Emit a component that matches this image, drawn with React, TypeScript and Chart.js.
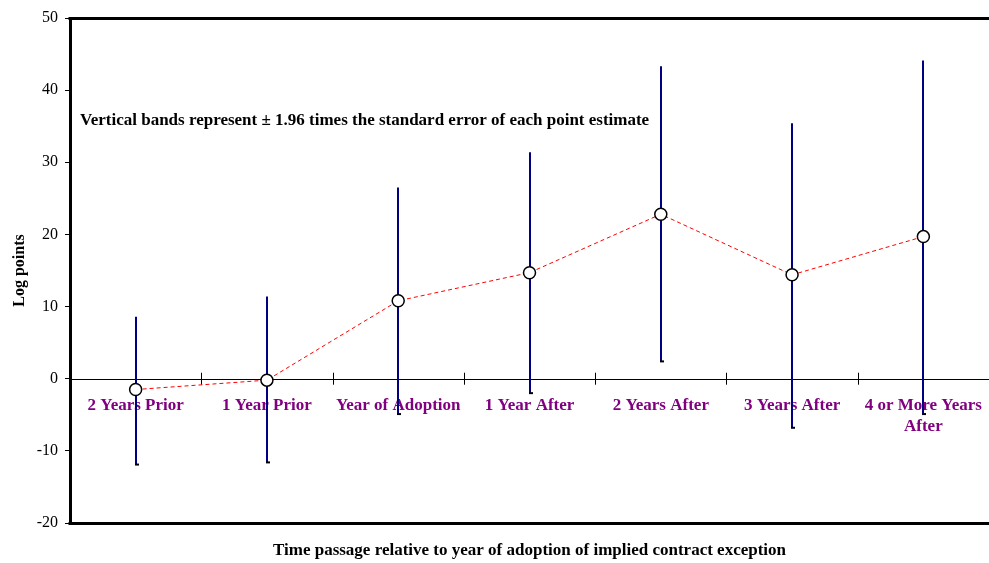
import React, { useEffect, useRef } from "react";
import { Chart, registerables } from "chart.js";

Chart.register(...registerables);

const categories: string[][] = [
  ["2 Years Prior"],
  ["1 Year Prior"],
  ["Year of Adoption"],
  ["1 Year After"],
  ["2 Years After"],
  ["3 Years After"],
  ["4 or More Years", "After"],
];
const estimates = [-1.5, -0.2, 10.8, 14.7, 22.8, 14.4, 19.7];
const upperBand = [8.6, 11.4, 26.5, 31.4, 43.3, 35.4, 44.1];
const lowerBand = [-11.9, -11.6, -4.9, -2.0, 2.4, -6.8, -4.9];
const yTicksMin = -20;
const yTicksMax = 50;
const yStep = 10;

const annotationText =
  "Vertical bands represent \u00b1 1.96 times the standard error of each point estimate";
const xTitle = "Time passage relative to year of adoption of implied contract exception";
const yTitle = "Log points";

const SERIF = "'Liberation Serif', 'Times New Roman', serif";

const customPlugin = {
  id: "custom",
  beforeDatasetsDraw(chart: any) {
    const ctx = chart.ctx;
    const x = chart.scales.x;
    const y = chart.scales.y;
    const ca = chart.chartArea;
    const y0 = y.getPixelForValue(0);
    ctx.save();
    // zero line
    ctx.strokeStyle = "#000";
    ctx.lineWidth = 1;
    ctx.beginPath();
    ctx.moveTo(ca.left, Math.round(y0) + 0.5);
    ctx.lineTo(ca.right, Math.round(y0) + 0.5);
    ctx.stroke();
    // category boundary ticks
    for (let i = 1; i < categories.length; i++) {
      const bx = (x.getPixelForValue(i - 1) + x.getPixelForValue(i)) / 2;
      ctx.beginPath();
      ctx.moveTo(Math.round(bx) + 0.5, y0 - 6);
      ctx.lineTo(Math.round(bx) + 0.5, y0 + 6);
      ctx.stroke();
    }
    // category labels
    ctx.fillStyle = "#800080";
    ctx.font = `bold 17px ${SERIF}`;
    ctx.textAlign = "center";
    ctx.textBaseline = "middle";
    categories.forEach((lines, i) => {
      const cx = x.getPixelForValue(i);
      lines.forEach((ln, j) => {
        ctx.fillText(ln, cx, y0 + 27 + j * 21);
      });
    });
    // error bands
    for (let i = 0; i < estimates.length; i++) {
      const cx = Math.round(x.getPixelForValue(i));
      const yt = y.getPixelForValue(upperBand[i]);
      const yb = y.getPixelForValue(lowerBand[i]);
      ctx.strokeStyle = "#000080";
      ctx.lineWidth = 2;
      ctx.beginPath();
      ctx.moveTo(cx, yt);
      ctx.lineTo(cx, yb);
      ctx.stroke();
      ctx.fillStyle = "#000";
      ctx.fillRect(cx - 1, yb - 1, 4, 2);
    }
    ctx.restore();
  },
  afterDraw(chart: any) {
    const ctx = chart.ctx;
    const ca = chart.chartArea;
    ctx.save();
    ctx.strokeStyle = "#000";
    ctx.lineWidth = 3;
    ctx.beginPath();
    ctx.moveTo(ca.left - 1.5, ca.top + 0.5);
    ctx.lineTo(ca.right, ca.top + 0.5);
    ctx.moveTo(ca.left - 1.5, ca.bottom + 0.5);
    ctx.lineTo(ca.right, ca.bottom + 0.5);
    ctx.stroke();
    ctx.fillStyle = "#000";
    ctx.font = `bold 17px ${SERIF}`;
    ctx.textAlign = "left";
    ctx.textBaseline = "middle";
    ctx.fillText(annotationText, ca.left + 10, 121);
    ctx.textAlign = "center";
    ctx.fillText(xTitle, (ca.left + ca.right) / 2, 551);
    ctx.save();
    ctx.translate(20, (ca.top + ca.bottom) / 2);
    ctx.rotate(-Math.PI / 2);
    ctx.font = `bold 16px ${SERIF}`;
    ctx.fillText(yTitle, 0, 0);
    ctx.restore();
    ctx.restore();
  },
};

export default function App() {
  const ref = useRef<HTMLCanvasElement>(null);
  useEffect(() => {
    if (!ref.current) return;
    const chart = new Chart(ref.current, {
      type: "line",
      data: {
        labels: categories.map((c) => c.join(" ")),
        datasets: [
          {
            data: estimates,
            borderColor: "#ff0000",
            borderWidth: 1,
            borderDash: [4, 3],
            pointRadius: 6,
            pointHoverRadius: 6,
            pointBackgroundColor: "#ffffff",
            pointBorderColor: "#000000",
            pointBorderWidth: 1.5,
            tension: 0,
          },
        ],
      },
      options: {
        responsive: false,
        animation: false,
        events: [],
        layout: { autoPadding: false, padding: { top: 18, bottom: 40, left: 0, right: 0 } },
        plugins: {
          legend: { display: false },
          tooltip: { enabled: false },
          title: { display: false },
        },
        scales: {
          x: {
            type: "category",
            offset: true,
            display: false,
          },
          y: {
            min: yTicksMin,
            max: yTicksMax,
            afterFit: (s: any) => {
              s.width = 70;
            },
            ticks: {
              stepSize: yStep,
              color: "#000",
              padding: 7,
              font: { family: SERIF, size: 16 },
            },
            grid: {
              drawOnChartArea: false,
              drawTicks: true,
              tickLength: 5,
              color: "#000",
            },
            border: { display: true, color: "#000", width: 3 },
          },
        },
      },
      plugins: [customPlugin],
    });
    return () => chart.destroy();
  }, []);
  return (
    <div style={{ position: "absolute", left: 0, top: 0, width: 989, height: 563, background: "#fff" }}>
      <canvas ref={ref} width={989} height={563} />
    </div>
  );
}
